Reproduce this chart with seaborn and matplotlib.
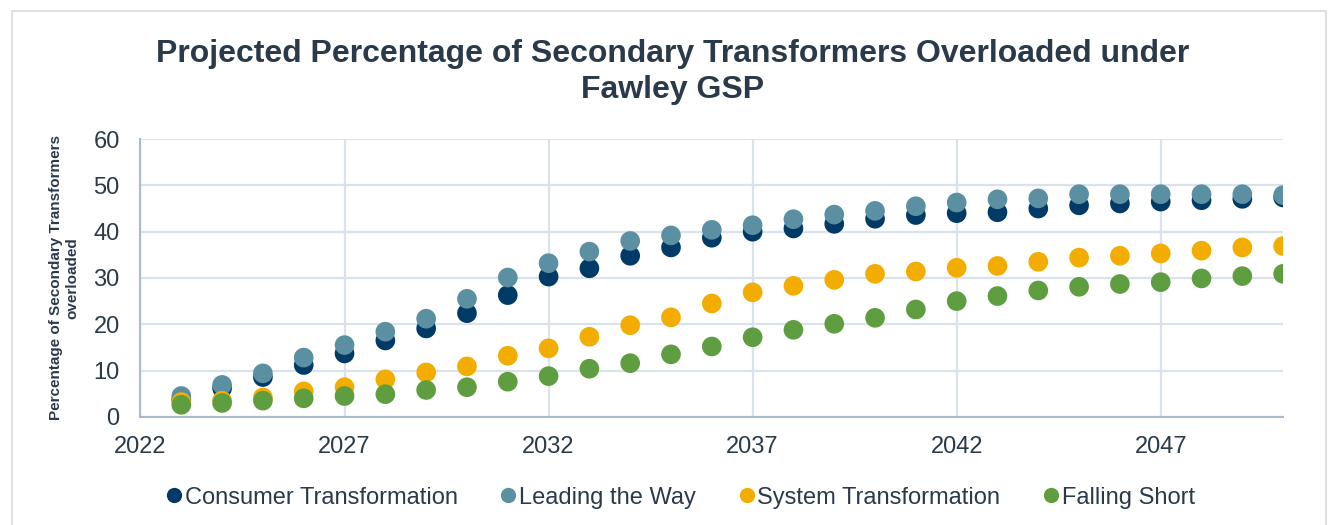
import pandas as pd
import seaborn as sns
import matplotlib.pyplot as plt
from matplotlib.patches import Rectangle

years = list(range(2023, 2051))

consumer_transformation = [3.7, 6.2, 8.6, 11.2, 13.7, 16.5, 19.1, 22.4, 26.3, 30.3,
                           32.1, 34.8, 36.6, 38.7, 40.0, 40.7, 41.7, 42.8, 43.6, 44.0,
                           44.2, 45.0, 45.7, 46.1, 46.5, 46.8, 47.1, 47.4]
leading_the_way = [4.5, 6.9, 9.4, 12.8, 15.5, 18.4, 21.2, 25.5, 30.1, 33.2,
                   35.7, 38.0, 39.2, 40.4, 41.4, 42.7, 43.7, 44.5, 45.5, 46.3,
                   47.0, 47.2, 48.1, 48.1, 48.1, 48.1, 48.1, 47.9]
system_transformation = [3.2, 3.5, 4.2, 5.5, 6.4, 8.1, 9.6, 10.9, 13.2, 14.8,
                         17.3, 19.8, 21.5, 24.5, 26.9, 28.3, 29.6, 30.9, 31.4, 32.2,
                         32.6, 33.5, 34.4, 34.8, 35.3, 35.9, 36.6, 36.9]
falling_short = [2.6, 3.0, 3.5, 4.0, 4.5, 4.9, 5.8, 6.4, 7.6, 8.8,
                 10.4, 11.6, 13.5, 15.2, 17.2, 18.8, 20.1, 21.4, 23.2, 25.0,
                 26.1, 27.3, 28.1, 28.7, 29.1, 29.9, 30.4, 30.9]

scenarios = ["Consumer Transformation", "Leading the Way",
             "System Transformation", "Falling Short"]
colors = ["#003a66", "#5b8fa2", "#f2ad00", "#5f9e40"]

# long-form table for seaborn
df = pd.concat([
    pd.DataFrame({"Year": years, "Value": vals, "Scenario": name})
    for name, vals in zip(scenarios, [consumer_transformation, leading_the_way,
                                      system_transformation, falling_short])
])

sns.set_style("white")
plt.rcParams["font.family"] = ["Liberation Sans", "DejaVu Sans"]

text_col = "#2b3a4a"
fig = plt.figure(figsize=(13.38, 5.25), dpi=100)
ax = fig.add_axes([0.105, 0.206, 0.854, 0.529])

sns.scatterplot(data=df, x="Year", y="Value", hue="Scenario",
                palette=dict(zip(scenarios, colors)), s=200,
                edgecolor="none", ax=ax, legend=False, zorder=3)

ax.set_xlim(2022, 2050)
ax.set_ylim(0, 60)
ax.set_xticks(range(2022, 2050, 5))
ax.set_yticks(range(0, 61, 10))
ax.grid(True, color="#dae3ec", linewidth=1.6)
ax.set_axisbelow(True)
for side in ["top", "right"]:
    ax.spines[side].set_visible(False)
for side in ["left", "bottom"]:
    ax.spines[side].set_color("#a9bccf")
    ax.spines[side].set_linewidth(1.5)
ax.tick_params(axis="both", length=0, labelsize=17, colors=text_col)
ax.tick_params(axis="x", pad=14)
ax.tick_params(axis="y", pad=15)
ax.set_xlabel("")
ax.set_ylabel("Percentage of Secondary Transformers\noverloaded",
              fontsize=11, fontweight="bold", color=text_col, labelpad=10)

fig.text(0.503, 0.925, "Projected Percentage of Secondary Transformers Overloaded under\nFawley GSP",
         ha="center", va="top", fontsize=23, fontweight="bold",
         color=text_col, linespacing=1.25)

handles = [plt.Line2D([], [], marker="o", linestyle="", markersize=11,
                      markerfacecolor=c, markeredgecolor="none") for c in colors]
fig.legend(handles, scenarios, loc="center", bbox_to_anchor=(0.508, 0.052),
           ncol=4, frameon=False, fontsize=17, handlelength=0.8,
           handletextpad=0.05, columnspacing=1.75, labelcolor=text_col)

# light frame around the chart area
fig.patches.append(Rectangle((0.009, -0.01), 0.982, 0.99, transform=fig.transFigure,
                             fill=False, edgecolor="#d9d9d9", linewidth=1.2))

plt.savefig("out.png", dpi=100)
